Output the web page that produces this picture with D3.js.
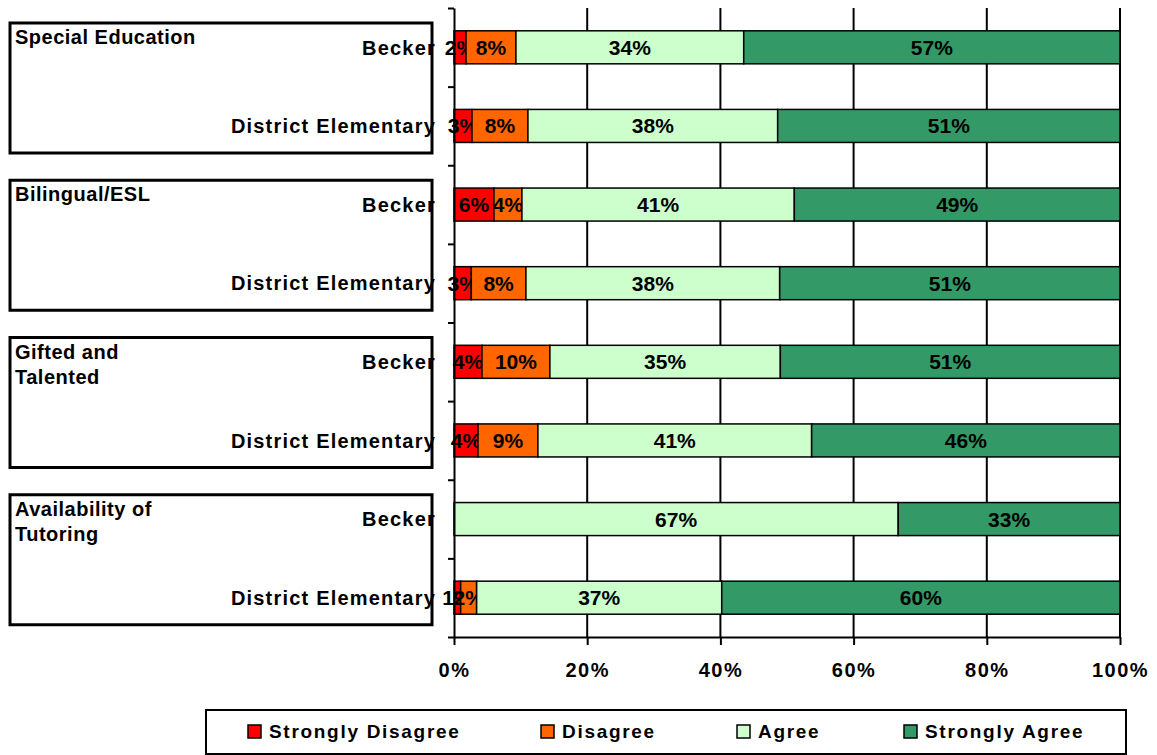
<!DOCTYPE html>
<html>
<head>
<meta charset="utf-8">
<script src="https://cdn.jsdelivr.net/npm/d3@7"></script>
<style>
body { margin: 0; background: #fff; }
text { font-family: "Liberation Sans", Arial, sans-serif; font-weight: bold; fill: #000; }
</style>
</head>
<body>
<script>
var groupLines = [["Special Education"], ["Bilingual/ESL"], ["Gifted and", "Talented"], ["Availability of", "Tutoring"]];
var rowNames = ["Becker", "District Elementary"];
var series = ["Strongly Disagree", "Disagree", "Agree", "Strongly Agree"];
var colors = ["#ff0000", "#ff6600", "#ccffcc", "#339966"];

// one value per bar, top to bottom
var stronglyDisagree = [1.8, 2.7, 6.0, 2.6, 4.2, 3.6, 0, 1.0];
var disagree = [7.5, 8.4, 4.2, 8.2, 10.2, 9.0, 0, 2.4];
var agree = [34.2, 37.5, 40.9, 38.1, 34.6, 41.1, 66.7, 36.8];
var stronglyAgree = [56.5, 51.4, 48.9, 51.1, 51.0, 46.3, 33.3, 59.8];
var xTicks = [0, 20, 40, 60, 80, 100];

var values = [stronglyDisagree, disagree, agree, stronglyAgree];

var rows = [];
groupLines.forEach(function(g, gi) {
	rowNames.forEach(function(r, ri) {
		var i = gi * 2 + ri;
		var row = {id: i, name: r};
		series.forEach(function(s, si) { row[s] = values[si][i]; });
		rows.push(row);
	});
});

var stack = d3.stack().keys(series)(rows);

var width = 1157, height = 755;
var plotTop = 8, plotBottom = 637;
var x = d3.scaleLinear().domain([0, 100]).range([454, 1120]);
var y = d3.scaleBand().domain(d3.range(rows.length)).range([plotTop, plotBottom])
	.paddingInner(0.58).paddingOuter(0.29);
var yEdge = d3.scaleLinear().domain([0, rows.length]).range([plotTop, plotBottom]);

var svg = d3.select("body").append("svg")
	.attr("width", width)
	.attr("height", height);

// group boxes
var boxes = svg.append("g");
groupLines.forEach(function(lines, gi) {
	var boxTop = yEdge(gi * 2) + 15;
	boxes.append("rect")
		.attr("x", 10).attr("y", boxTop)
		.attr("width", 422).attr("height", 130)
		.attr("fill", "none").attr("stroke", "#000").attr("stroke-width", 3);
	lines.forEach(function(t, li) {
		boxes.append("text")
			.attr("x", 15).attr("y", boxTop + 21 + li * 25)
			.style("font-size", "20px")
			.style("letter-spacing", "0.5px")
			.text(t);
	});
});

// gridlines
svg.append("g").selectAll("line")
	.data(xTicks.filter(function(d) { return d > 0; }))
	.enter().append("line")
	.attr("x1", function(d) { return x(d); })
	.attr("x2", function(d) { return x(d); })
	.attr("y1", plotTop).attr("y2", plotBottom)
	.attr("stroke", "#000").attr("stroke-width", 2);

// bars
var layer = svg.append("g").selectAll("g")
	.data(stack)
	.enter().append("g")
	.attr("fill", function(d, i) { return colors[i]; });

layer.selectAll("rect")
	.data(function(d) { return d.filter(function(p) { return p[1] - p[0] > 0; }); })
	.enter().append("rect")
	.attr("x", function(d) { return x(d[0]); })
	.attr("y", function(d) { return y(d.data.id); })
	.attr("width", function(d) { return x(d[1]) - x(d[0]); })
	.attr("height", y.bandwidth())
	.attr("stroke", "#000")
	.attr("stroke-width", 1.5);

// value labels
layer.selectAll("text")
	.data(function(d) { return d.filter(function(p) { return p[1] - p[0] > 0; }); })
	.enter().append("text")
	.attr("x", function(d) { return (x(d[0]) + x(d[1])) / 2; })
	.attr("y", function(d) { return y(d.data.id) + y.bandwidth() / 2; })
	.attr("dy", "0.36em")
	.attr("text-anchor", "middle")
	.style("font-size", "21px")
	.text(function(d) { return Math.round(d[1] - d[0]) + "%"; });

// y axis with boundary ticks
var yAxis = svg.append("g")
	.attr("transform", "translate(454,0)")
	.call(d3.axisLeft(yEdge).tickValues(d3.range(rows.length + 1)).tickFormat("").tickSize(6).tickSizeOuter(0));
yAxis.selectAll("line, path").attr("stroke", "#000").attr("stroke-width", 2);

// row labels
svg.append("g").selectAll("text")
	.data(rows)
	.enter().append("text")
	.attr("x", 436)
	.attr("y", function(d) { return y(d.id) + y.bandwidth() / 2; })
	.attr("dy", "0.36em")
	.attr("text-anchor", "end")
	.style("font-size", "20px")
	.style("letter-spacing", "1.2px")
	.text(function(d) { return d.name; });

// x axis
var xAxis = svg.append("g")
	.attr("transform", "translate(0," + plotBottom + ")")
	.call(d3.axisBottom(x).tickValues(xTicks).tickFormat(function(d) { return d + "%"; })
		.tickSize(8).tickSizeOuter(0).tickPadding(18));
xAxis.selectAll("line, path").attr("stroke", "#000").attr("stroke-width", 2);
xAxis.selectAll("text")
	.style("font-family", "'Liberation Sans', Arial, sans-serif")
	.style("font-weight", "bold")
	.style("font-size", "20px")
	.style("letter-spacing", "1.5px")
	.attr("fill", "#000");

// legend
var legend = svg.append("g");
legend.append("rect")
	.attr("x", 206).attr("y", 710)
	.attr("width", 920).attr("height", 44)
	.attr("fill", "none").attr("stroke", "#000").attr("stroke-width", 2);
var legendX = [248, 541, 737, 904];
var item = legend.selectAll("g.item")
	.data(series)
	.enter().append("g")
	.attr("class", "item")
	.attr("transform", function(d, i) { return "translate(" + legendX[i] + ",725)"; });
item.append("rect")
	.attr("width", 13).attr("height", 13)
	.attr("fill", function(d, i) { return colors[i]; })
	.attr("stroke", "#000").attr("stroke-width", 1.5);
item.append("text")
	.attr("x", 21).attr("y", 13)
	.style("font-size", "19px")
	.style("letter-spacing", "1.7px")
	.text(function(d) { return d; });
</script>
</body>
</html>
